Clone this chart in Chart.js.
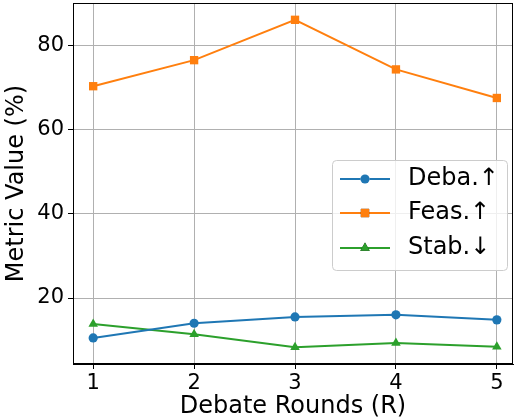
<!DOCTYPE html>
<html>
<head>
<meta charset="utf-8">
<script src="https://cdn.jsdelivr.net/npm/chart.js@4"></script>
<style>
  html, body { margin: 0; padding: 0; background: #fff; }
  #wrap { width: 518px; height: 419px; }
</style>
</head>
<body>
<div id="wrap"><canvas id="chart" width="518" height="419"></canvas></div>
<script>
// debate rounds on x
const rounds = [1, 2, 3, 4, 5];
const debaValues = [10.5, 14.0, 15.5, 16.0, 14.8];
const feasValues = [70.4, 76.6, 86.2, 74.4, 67.6];
const stabValues = [13.8, 11.4, 8.3, 9.3, 8.4];
const xTicks = [1, 2, 3, 4, 5];
const yTicks = [20, 40, 60, 80];
const seriesNames = ['Deba.\u2191', 'Feas.\u2191', 'Stab.\u2193'];

const FONT = 'DejaVu Sans';

function pts(vals) {
  return rounds.map((r, i) => ({ x: r, y: vals[i] }));
}

// box around the plot, like matplotlib spines
const frame = {
  id: 'frame',
  afterDraw(chart) {
    const a = chart.chartArea, c = chart.ctx;
    c.save();
    c.strokeStyle = '#000';
    c.lineWidth = 1;
    c.strokeRect(a.left + 0.5, a.top + 0.5, a.right - a.left - 1, a.bottom - a.top - 1);
    c.restore();
  }
};

// legend box inside the plot
const boxLegend = {
  id: 'boxLegend',
  afterDatasetsDraw(chart) {
    const c = chart.ctx;
    const x0 = 332, y0 = 160, w = 175, h = 110;
    c.save();
    c.beginPath();
    c.roundRect(x0 + 0.5, y0 + 0.5, w, h, 4);
    c.fillStyle = 'rgba(255,255,255,0.8)';
    c.fill();
    c.strokeStyle = '#cccccc';
    c.lineWidth = 1;
    c.stroke();
    const rows = [179, 213, 248];
    chart.data.datasets.forEach((ds, i) => {
      const y = rows[i];
      c.strokeStyle = ds.borderColor;
      c.lineWidth = 2;
      c.beginPath();
      c.moveTo(340, y);
      c.lineTo(390, y);
      c.stroke();
      Chart.helpers.drawPoint(c, {
        pointStyle: ds.pointStyle, radius: ds.pointRadius, borderWidth: 0
      }, 365, y);
      c.fillStyle = ds.backgroundColor;
      c.fill();
      c.fillStyle = '#000';
      c.font = '24px ' + FONT;
      c.textBaseline = 'middle';
      c.fillText(ds.label, 408, y);
    });
    c.restore();
  }
};

function mk(label, vals, color, style, r) {
  return {
    label: label,
    data: pts(vals),
    borderColor: color,
    backgroundColor: color,
    borderWidth: 2,
    pointStyle: style,
    pointRadius: r,
    pointHoverRadius: r,
    pointBorderWidth: 0,
    tension: 0
  };
}

new Chart(document.getElementById('chart'), {
  type: 'line',
  data: {
    datasets: [
      mk(seriesNames[0], debaValues, '#1f77b4', 'circle', 4.6),
      mk(seriesNames[1], feasValues, '#ff7f0e', 'rect', 5.9),
      mk(seriesNames[2], stabValues, '#2ca02c', 'triangle', 5.5)
    ]
  },
  options: {
    responsive: false,
    animation: false,
    layout: { autoPadding: false, padding: { top: 3, right: 5, left: 0, bottom: 0 } },
    plugins: { legend: { display: false }, tooltip: { enabled: false } },
    scales: {
      x: {
        type: 'linear',
        min: 0.8,
        max: 5.16,
        afterBuildTicks(s) { s.ticks = xTicks.map(v => ({ value: v })); },
        afterFit(s) { s.height = 55; s.paddingLeft = 0; s.paddingRight = 0; },
        grid: { color: '#b0b0b0', lineWidth: 1, tickColor: '#000', tickLength: 5 },
        border: { color: '#000' },
        ticks: { color: '#000', font: { family: FONT, size: 21 }, padding: 2, maxRotation: 0 },
        title: {
          display: true, text: 'Debate Rounds (R)', color: '#000',
          font: { family: FONT, size: 24 }, padding: { top: 0, bottom: -2.4 }
        }
      },
      y: {
        min: 4.3,
        max: 90.2,
        afterBuildTicks(s) { s.ticks = yTicks.map(v => ({ value: v })); },
        afterFit(s) { s.width = 73; s.paddingTop = 0; s.paddingBottom = 0; },
        grid: { color: '#b0b0b0', lineWidth: 1, tickColor: '#000', tickLength: 5 },
        border: { color: '#000' },
        ticks: { color: '#000', font: { family: FONT, size: 21 }, padding: 4 },
        title: {
          display: true, text: 'Metric Value (%)', color: '#000',
          font: { family: FONT, size: 24 }, padding: { top: 2.6, bottom: 0 }
        }
      }
    }
  },
  plugins: [frame, boxLegend]
});
</script>
</body>
</html>
